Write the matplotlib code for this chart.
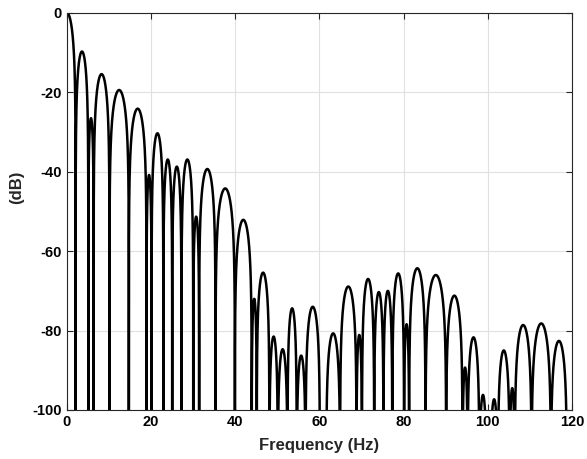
import numpy as np
import matplotlib
matplotlib.use("Agg")
import matplotlib.pyplot as plt

# null frequencies (Hz) bounding each lobe, and the peak level (dB) of each lobe
nulls = [-2.06, 2.06, 5.07, 6.34, 10.1, 14.7, 18.9, 20.1, 22.9, 25.0, 27.2,
         30.0, 31.4, 35.3, 39.9, 43.9, 45.1, 48.1, 50.1, 52.4, 54.6, 56.7,
         60.1, 61.6, 64.9, 68.8, 70.1, 73.0, 75.2, 77.3, 80.1, 81.3, 85.2,
         90.1, 94.0, 95.2, 98.0, 99.7, 100.6, 102.4, 105.2, 106.4, 110.4,
         115.0, 118.8]
peaks = [0.0, -9.7, -26.5, -15.4, -19.4, -24.1, -40.8, -30.3, -36.9, -38.7,
         -36.9, -51.3, -39.3, -44.2, -52.1, -72.0, -65.4, -81.5, -84.7, -74.4,
         -86.3, -74.0, -103.0, -80.7, -68.9, -81.1, -67.0, -70.3, -70.0, -65.6,
         -78.4, -64.3, -66.0, -71.2, -89.3, -81.7, -96.2, -104.0, -97.3, -85.0,
         -94.5, -78.6, -78.2, -82.6]

freq = np.linspace(0, 120, 12001)
mag = np.full_like(freq, -150.0)
for a, b, pk in zip(nulls[:-1], nulls[1:], peaks):
    m = (freq >= a) & (freq <= b)
    s = np.abs(np.sin(np.pi * (freq[m] - a) / (b - a)))
    mag[m] = pk + 20 * np.log10(np.maximum(s, 1e-8))
mag = np.maximum(mag, -150)

plt.rcParams['font.family'] = ['Liberation Sans', 'DejaVu Sans']
plt.rcParams['font.weight'] = 'bold'
plt.rcParams['axes.unicode_minus'] = False

fig = plt.figure(figsize=(5.87, 4.59), dpi=100)
ax = fig.add_axes([0.1141, 0.1068, 0.8603, 0.8649])
ax.plot(freq, mag, color='black', lw=1.8)

ax.set_xlim(0, 120)
ax.set_ylim(-100, 0)
ax.set_xticks(np.arange(0, 121, 20))
ax.set_yticks(np.arange(-100, 1, 20))
ax.grid(True, color='#e0e0e0', lw=0.8)
ax.set_axisbelow(True)
ax.tick_params(direction='in', length=4, width=0.8, top=True, right=True,
               labelsize=10.5, colors='#262626', labelcolor='black')
for t in ax.get_xticklabels() + ax.get_yticklabels():
    t.set_fontweight('bold')
for sp in ax.spines.values():
    sp.set_color('#262626')
    sp.set_linewidth(0.8)

ax.set_xlabel('Frequency (Hz)', fontsize=12, fontweight='bold', color='#262626')
ax.set_ylabel('(dB)', fontsize=12, fontweight='bold', color='#262626')
ax.xaxis.set_label_coords(0.5, -0.07)
ax.yaxis.set_label_coords(-0.085, 0.56)

fig.savefig('out.png', dpi=100)
